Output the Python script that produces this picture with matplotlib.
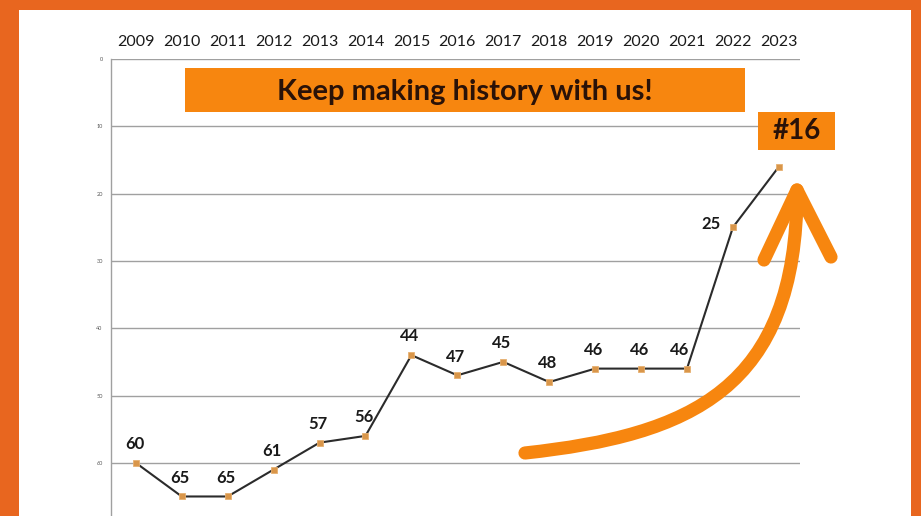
import matplotlib
matplotlib.use("Agg")
import matplotlib.pyplot as plt
from matplotlib.patches import Rectangle, PathPatch
from matplotlib.path import Path

years = ["2009", "2010", "2011", "2012", "2013", "2014", "2015", "2016",
         "2017", "2018", "2019", "2020", "2021", "2022", "2023"]
ranks = [60, 65, 65, 61, 57, 56, 44, 47, 45, 48, 46, 46, 46, 25, 16]
labels = ["60", "65", "65", "61", "57", "56", "44", "47", "45", "48", "46", "46", "46", "25", ""]
yticks = [0, 10, 20, 30, 40, 50, 60]
banner_text = "Keep making history with us!"
badge_text = "#16"

W, H = 921, 516
fig = plt.figure(figsize=(W / 100, H / 100), dpi=100)
fig.patch.set_facecolor("#e8661f")
plt.rcParams['font.family'] = ['Lato', 'DejaVu Sans']


def fx(x):
    return x / W


def fy(y):
    return 1 - y / H


# white panel
fig.patches.append(Rectangle((fx(19), 0), fx(911) - fx(19), fy(10), transform=fig.transFigure,
                             facecolor="white", edgecolor="none", zorder=0))

ax = fig.add_axes([fx(111), 0, fx(800) - fx(111), fy(59)])
ax.set_zorder(2)
ax.set_facecolor("none")
xs = list(range(len(years)))
ax.set_xlim(-0.54, 14.46)
ax.set_ylim(67.9, 0)
ax.plot(xs, ranks, color="#2b2b2b", lw=1.5, marker="s", ms=4.5,
        mfc="#d9964a", mec="#e7b070", mew=0.6, zorder=3, clip_on=False)
for i, (v, t) in enumerate(zip(ranks, labels)):
    if not t:
        continue
    if i == 13:
        off = (-16, 2)
    elif i == 12:
        off = (-5, 13.5)
    else:
        off = (-1, 13.5)
    ax.annotate(t, (i, v), xytext=off, textcoords="offset points",
                ha="center", va="center", fontsize=12, fontweight="bold", color="#1a1a1a")

ax.set_yticks(yticks)
ax.set_yticklabels([str(v) for v in yticks], fontsize=4, color="#555555")
ax.tick_params(axis="y", length=0, pad=6)
ax.grid(axis="y", color="#a0a0a0", lw=1)
ax.set_axisbelow(True)
ax.xaxis.tick_top()
ax.set_xticks(xs)
ax.set_xticklabels(years, fontsize=11.5, color="#1a1a1a")
ax.tick_params(axis="x", length=0, pad=7)
for s in ["right", "bottom", "top"]:
    ax.spines[s].set_visible(False)
ax.spines["left"].set_color("#a0a0a0")
ax.spines["left"].set_linewidth(1)

# banner
fig.patches.append(Rectangle((fx(185), fy(112)), fx(745) - fx(185), fy(68) - fy(112),
                             transform=fig.transFigure, facecolor="#f7860f", edgecolor="none", zorder=5))
fig.text(fx(465), fy(92), banner_text, ha="center", va="center", fontsize=21,
         fontweight="bold", color="#2a1208", zorder=6)

# badge
fig.patches.append(Rectangle((fx(758), fy(150)), fx(835) - fx(758), fy(112) - fy(150),
                             transform=fig.transFigure, facecolor="#f7860f", edgecolor="none", zorder=5))
fig.text(fx(797), fy(131), badge_text, ha="center", va="center", fontsize=20,
         fontweight="bold", color="#2a1208", zorder=6)

# arrow
curve = Path([(fx(525), fy(453)), (fx(690), fy(435)), (fx(797), fy(390)), (fx(797), fy(190))],
             [Path.MOVETO, Path.CURVE4, Path.CURVE4, Path.CURVE4])
fig.patches.append(PathPatch(curve, transform=fig.transFigure, facecolor="none",
                             edgecolor="#f7860f", lw=9.5, capstyle="round", joinstyle="round", zorder=7))
head = Path([(fx(764), fy(260)), (fx(797), fy(190)), (fx(831), fy(257))],
            [Path.MOVETO, Path.LINETO, Path.LINETO])
fig.patches.append(PathPatch(head, transform=fig.transFigure, facecolor="none",
                             edgecolor="#f7860f", lw=9.5, capstyle="round", joinstyle="round", zorder=7))

fig.savefig("out.png", dpi=100, facecolor=fig.get_facecolor())
